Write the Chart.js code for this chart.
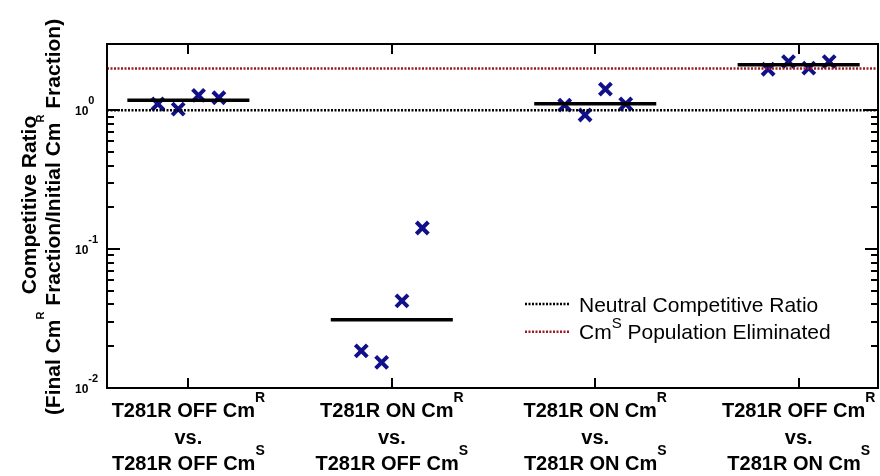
<!DOCTYPE html>
<html>
<head>
<meta charset="utf-8">
<script src="https://cdn.jsdelivr.net/npm/chart.js@4"></script>
<style>
html, body { margin: 0; padding: 0; background: #fff; }
</style>
</head>
<body>
<canvas id="mycanvas" width="880" height="476"></canvas>
<script>
// category labels (competitor vs. competitor), "^" marks a superscript
var topLabels = [['T281R OFF Cm', '^R'], ['T281R ON Cm', '^R'], ['T281R ON Cm', '^R'], ['T281R OFF Cm', '^R']];
var bottomLabels = [['T281R OFF Cm', '^S'], ['T281R OFF Cm', '^S'], ['T281R ON Cm', '^S'], ['T281R ON Cm', '^S']];

// competitive ratio of each replicate
var ratio1 = [1.11, 1.02, 1.28, 1.23];
var ratio2 = [0.0185, 0.0153, 0.0424, 0.142];
var ratio3 = [1.09, 0.925, 1.42, 1.11];
var ratio4 = [1.975, 2.24, 2.01, 2.24];
var means = [1.18, 0.031, 1.115, 2.13];
var replicateOffset = [-0.15, -0.05, 0.05, 0.15];

var neutralRatio = 1;
var eliminatedRatio = 2;

var yTicks = [0.01, 0.1, 1];
var yTickExp = ['-2', '-1', '0'];

var yTitle1 = ['Competitive Ratio'];
var yTitle2 = ['(Final Cm', '^R', ' Fraction/Initial Cm', '^R', ' Fraction)'];
var legendLabels = [['Neutral Competitive Ratio'], ['Cm', '^S', ' Population Eliminated']];

var xMin = 0.6, xMax = 4.39;
var navy = '#10108a';
var darkRed = '#9a1c22';

var allRatios = [ratio1, ratio2, ratio3, ratio4];
var points = [];
for (var c = 0; c < allRatios.length; c++) {
	for (var r = 0; r < allRatios[c].length; r++) {
		points.push({x: c + 1 + replicateOffset[r], y: allRatios[c][r]});
	}
}

var datasets = [
	{
		type: 'line', label: 'neutral', showLine: true, pointRadius: 0,
		borderColor: '#000', borderWidth: 2.5, borderDash: [2, 1.5],
		data: [{x: xMin, y: neutralRatio}, {x: xMax, y: neutralRatio}]
	},
	{
		type: 'line', label: 'eliminated', showLine: true, pointRadius: 0,
		borderColor: darkRed, borderWidth: 2.5, borderDash: [2, 1.5],
		data: [{x: xMin, y: eliminatedRatio}, {x: xMax, y: eliminatedRatio}]
	}
];
for (var m = 0; m < means.length; m++) {
	datasets.push({
		type: 'line', label: 'mean', showLine: true, pointRadius: 0,
		borderColor: '#000', borderWidth: 3.5,
		data: [{x: m + 1 - 0.3, y: means[m]}, {x: m + 1 + 0.3, y: means[m]}]
	});
}
datasets.push({
	label: 'ratio', data: points, pointStyle: 'crossRot', pointRadius: 8.5,
	borderColor: navy, backgroundColor: navy, pointBorderWidth: 4
});

function drawRich(ctx, parts, x, y, align, font, supFont, rise) {
	var w = 0;
	parts.forEach(function(p) {
		ctx.font = p[0] == '^' ? supFont : font;
		w += ctx.measureText(p[0] == '^' ? p.slice(1) : p).width;
	});
	var cx = align == 'center' ? x - w / 2 : x;
	ctx.textAlign = 'left';
	ctx.textBaseline = 'alphabetic';
	parts.forEach(function(p) {
		var sup = p[0] == '^';
		var t = sup ? p.slice(1) : p;
		ctx.font = sup ? supFont : font;
		ctx.fillText(t, cx, sup ? y - rise : y);
		cx += ctx.measureText(t).width;
	});
}

var decorations = {
	id: 'decorations',
	afterDatasetsDraw: function(chart) {
		var ctx = chart.ctx;
		var a = chart.chartArea;
		var xs = chart.scales.x, ys = chart.scales.y;
		ctx.save();
		ctx.strokeStyle = '#000';
		ctx.fillStyle = '#000';
		ctx.lineWidth = 2;

		// frame
		ctx.strokeRect(a.left, a.top, a.right - a.left, a.bottom - a.top);

		// y ticks, both sides, pointing in
		ctx.beginPath();
		for (var d = 0; d < yTicks.length; d++) {
			for (var k = 1; k <= 9; k++) {
				var v = yTicks[d] * k;
				if (v > 1) break;
				var py = Math.round(ys.getPixelForValue(v));
				var len = k == 1 ? 13 : 7;
				ctx.moveTo(a.left, py); ctx.lineTo(a.left + len, py);
				ctx.moveTo(a.right, py); ctx.lineTo(a.right - len, py);
			}
		}
		// x ticks at categories
		for (var i = 0; i < topLabels.length; i++) {
			var px = Math.round(xs.getPixelForValue(i + 1));
			ctx.moveTo(px, a.top); ctx.lineTo(px, a.top + 10);
			ctx.moveTo(px, a.bottom); ctx.lineTo(px, a.bottom - 10);
		}
		ctx.stroke();

		// y tick labels
		for (var j = 0; j < yTicks.length; j++) {
			var ty = ys.getPixelForValue(yTicks[j]);
			drawRich(ctx, ['10', '^' + yTickExp[j]], 75, ty + 4.5, 'left',
				'bold 12px "Liberation Sans", Arial, sans-serif', 'bold 11px "Liberation Sans", Arial, sans-serif', 11);
		}

		// category labels
		var f = 'bold 20px "Liberation Sans", Arial, sans-serif';
		var sf = 'bold 14px "Liberation Sans", Arial, sans-serif';
		for (var n = 0; n < topLabels.length; n++) {
			var cx = xs.getPixelForValue(n + 1);
			drawRich(ctx, topLabels[n], cx, 416.5, 'center', f, sf, 15);
			drawRich(ctx, ['vs.'], cx, 443.5, 'center', f, sf, 15);
			drawRich(ctx, bottomLabels[n], cx, 470, 'center', f, sf, 15);
		}

		// y axis title
		var tf = 'bold 21px "Liberation Sans", Arial, sans-serif';
		var tsf = 'bold 11px "Liberation Sans", Arial, sans-serif';
		ctx.save();
		ctx.translate(36, 205);
		ctx.rotate(-Math.PI / 2);
		drawRich(ctx, yTitle1, 0, 0, 'center', tf, tsf, 16);
		ctx.restore();
		ctx.save();
		ctx.translate(60, 217);
		ctx.rotate(-Math.PI / 2);
		drawRich(ctx, yTitle2, 0, 0, 'center', tf, tsf, 16);
		ctx.restore();

		// legend
		var lf = '21px "Liberation Sans", Arial, sans-serif';
		var lsf = '15px "Liberation Sans", Arial, sans-serif';
		for (var g = 0; g < legendLabels.length; g++) {
			var ds = chart.data.datasets[g];
			var ly = 304 + g * 27.7;
			ctx.save();
			ctx.strokeStyle = ds.borderColor;
			ctx.lineWidth = ds.borderWidth;
			ctx.setLineDash(ds.borderDash);
			ctx.beginPath();
			ctx.moveTo(525, ly); ctx.lineTo(570, ly);
			ctx.stroke();
			ctx.restore();
			drawRich(ctx, legendLabels[g], 579, ly + 7.7, 'left', lf, lsf, 11);
		}
		ctx.restore();
	}
};

var chart = new Chart(document.getElementById('mycanvas'), {
	type: 'scatter',
	data: { datasets: datasets },
	options: {
		responsive: false,
		animation: false,
		devicePixelRatio: 1,
		layout: { autoPadding: false, padding: { left: 107, top: 44, right: 2, bottom: 88 } },
		plugins: { legend: { display: false }, tooltip: { enabled: false } },
		scales: {
			x: { type: 'linear', min: xMin, max: xMax, display: false },
			y: { type: 'logarithmic', min: 0.01, max: 3, display: false }
		}
	},
	plugins: [decorations]
});
</script>
</body>
</html>
